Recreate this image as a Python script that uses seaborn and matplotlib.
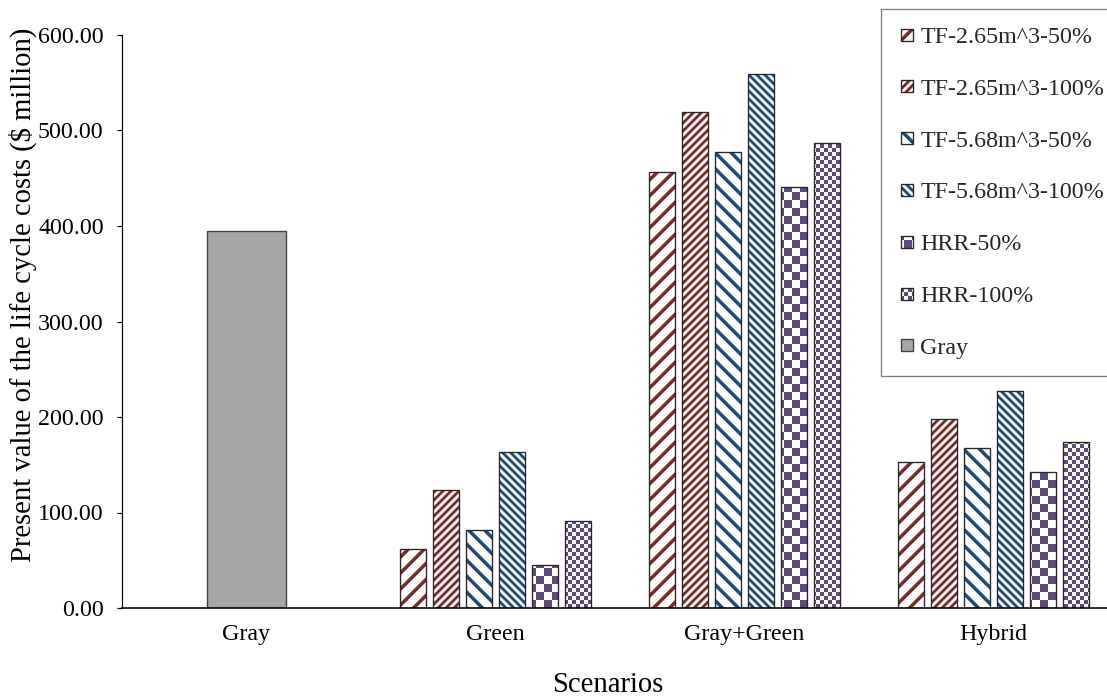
import matplotlib
matplotlib.use("Agg")
import numpy as np
import pandas as pd
import matplotlib.pyplot as plt
import matplotlib.hatch as mhatch
from matplotlib.path import Path
from matplotlib.patches import Rectangle
from matplotlib.container import BarContainer
from matplotlib.legend_handler import HandlerPatch, update_from_first_child
from matplotlib.ticker import FormatStrFormatter, FixedLocator
from matplotlib.colors import to_rgba
import seaborn as sns

# ---------------------------------------------------------------- data
scenarios = ["Gray", "Green", "Gray+Green", "Hybrid"]
series = ["TF-2.65m^3-50%", "TF-2.65m^3-100%", "TF-5.68m^3-50%",
          "TF-5.68m^3-100%", "HRR-50%", "HRR-100%"]
green_costs = [61.8, 123.6, 81.7, 163.4, 45.5, 91.0]
gray_green_costs = [457.0, 519.0, 477.0, 559.0, 441.0, 487.0]
hybrid_costs = [153.0, 198.0, 168.0, 227.0, 142.0, 174.0]
gray_scenario = ["Gray"]
gray_costs = [395.0]
y_ticks = [0, 100, 200, 300, 400, 500, 600]

# ---------------------------------------------------------------- styles
pattern_colors = ["#7B2A2A", "#7B2A2A", "#1F4B7A", "#1F4B7A", "#5E4A7E", "#5E4A7E"]
hatches = ["/", "//", "\\", "\\\\", "O", "o"]
gray_fill = "#A6A6A6"
DPI = 96


class DiagonalBands(mhatch.HatchPatternBase):
    """Solid diagonal bands: one char = wide bands, two chars = narrow bands."""
    char = "/"
    direction = 1

    def __init__(self, hatch, density):
        n = hatch.count(self.char)
        if n == 0:
            self.num_vertices = 0
            return
        self.period = 1.0 / (6 * n)
        self.thick = (5.0 if n == 1 else 4.0) / DPI
        self.offsets = np.arange(-1.0 - self.period, 2.0 + self.period, self.period)
        self.num_vertices = len(self.offsets) * 5

    def set_vertices_and_codes(self, vertices, codes):
        x0, x1 = -0.05, 1.05
        d = self.direction
        for i, c in enumerate(self.offsets):
            if d < 0:
                c = c + 1.0
            pts = [(x0, d * x0 + c), (x1, d * x1 + c),
                   (x1, d * x1 + c + self.thick), (x0, d * x0 + c + self.thick),
                   (x0, d * x0 + c)]
            vertices[i * 5:(i + 1) * 5] = pts
            codes[i * 5] = Path.MOVETO
            codes[i * 5 + 1:i * 5 + 4] = Path.LINETO
            codes[i * 5 + 4] = Path.CLOSEPOLY


class UpBands(DiagonalBands):
    char = "/"
    direction = 1


class DownBands(DiagonalBands):
    char = "\\"
    direction = -1


class Checkerboard(mhatch.HatchPatternBase):
    """Filled checkerboard: 'O' = large squares, 'o' = small squares."""

    def __init__(self, hatch, density):
        if "O" in hatch:
            self.cells = 12
        elif "o" in hatch:
            self.cells = 24
        else:
            self.cells = 0
        self.squares = [(i, j) for i in range(self.cells) for j in range(self.cells)
                        if (i + j) % 2 == 0]
        self.num_vertices = len(self.squares) * 5

    def set_vertices_and_codes(self, vertices, codes):
        s = 1.0 / self.cells
        for k, (i, j) in enumerate(self.squares):
            x, y = i * s, j * s
            vertices[k * 5:(k + 1) * 5] = [(x, y), (x + s, y), (x + s, y + s),
                                           (x, y + s), (x, y)]
            codes[k * 5] = Path.MOVETO
            codes[k * 5 + 1:k * 5 + 4] = Path.LINETO
            codes[k * 5 + 4] = Path.CLOSEPOLY


mhatch._hatch_types = [UpBands, DownBands, Checkerboard]

# ---------------------------------------------------------------- theme
sns.set_style("ticks")
plt.rcParams["font.family"] = ["Liberation Serif", "DejaVu Serif"]
plt.rcParams["hatch.linewidth"] = 0.0
FS = 18          # tick labels and legend
FS_TITLE = 21.5  # axis titles

rows = []
for scen, vals in [("Green", green_costs), ("Gray+Green", gray_green_costs),
                   ("Hybrid", hybrid_costs)]:
    for name, v in zip(series, vals):
        rows.append({"Scenario": scen, "Series": name, "Cost": v})
df = pd.DataFrame(rows)
gray_df = pd.DataFrame({"Scenario": gray_scenario, "Cost": gray_costs})

fig = plt.figure(figsize=(1107 / DPI, 698 / DPI), dpi=DPI)
ax = fig.add_axes([122 / 1107, 1 - 608 / 698, 996 / 1107, 573 / 698])

sns.barplot(data=df, x="Scenario", y="Cost", hue="Series", order=scenarios,
            hue_order=series, palette=pattern_colors, width=0.795, gap=0.2,
            saturation=1, errorbar=None, legend=False, ax=ax)
sns.barplot(data=gray_df, x="Scenario", y="Cost", order=scenarios, width=0.318,
            color=gray_fill, saturation=1, errorbar=None, ax=ax,
            edgecolor="#3F3F3F", linewidth=1.0)

for cont, col, hatch in zip(ax.containers[:6], pattern_colors, hatches):
    for bar in cont:
        bar.set_facecolor("white")
        bar.set_edgecolor("#262626")
        bar.set_linewidth(1.0)
        bar.set_hatch(hatch)
        bar._hatch_color = to_rgba(col)

# ---------------------------------------------------------------- axes
ax.set_ylim(0, 600)
ax.set_xlim(-0.5, 3.5)
ax.yaxis.set_major_locator(FixedLocator(y_ticks))
ax.yaxis.set_major_formatter(FormatStrFormatter("%.2f"))
ax.tick_params(axis="y", direction="out", length=3.75, width=0.9, color="black",
               labelsize=FS, pad=10, labelcolor="black")
ax.tick_params(axis="x", length=0, labelsize=FS, pad=12, labelcolor="black")
for side in ["top", "right"]:
    ax.spines[side].set_visible(False)
ax.spines["left"].set_color("black")
ax.spines["left"].set_linewidth(0.9)
ax.spines["bottom"].set_color("black")
ax.spines["bottom"].set_linewidth(1.2)
ax.grid(False)

ax.set_ylabel("Present value of the life cycle costs ($ million)", fontsize=FS_TITLE,
              color="black")
ax.yaxis.set_label_coords(-0.0853, 0.546)
ax.set_xlabel("Scenarios", fontsize=FS_TITLE, color="black")
ax.xaxis.set_label_coords(0.488, -0.112)

# ---------------------------------------------------------------- legend
def square_handle(legend, orig_handle, xdescent, ydescent, width, height, fontsize):
    side = 12 * 72 / DPI
    return Rectangle((width - side - xdescent, -ydescent + (height - side) / 2),
                     side, side)


handler = HandlerPatch(patch_func=square_handle, update_func=update_from_first_child)
handles = list(ax.containers[:6]) + [ax.containers[6]]
labels = series + gray_scenario
leg = fig.legend(handles, labels, loc="upper left",
                 bbox_to_anchor=(881 / 1107, 1 - 9 / 698), borderaxespad=0,
                 fontsize=FS, frameon=True, fancybox=False, edgecolor="#7F7F7F",
                 framealpha=1, borderpad=0.72, labelspacing=1.25,
                 handlelength=0.62, handleheight=0.7, handletextpad=0.3,
                 handler_map={BarContainer: handler})
leg.get_frame().set_linewidth(1.0)

fig.savefig("out.png", dpi=DPI)
